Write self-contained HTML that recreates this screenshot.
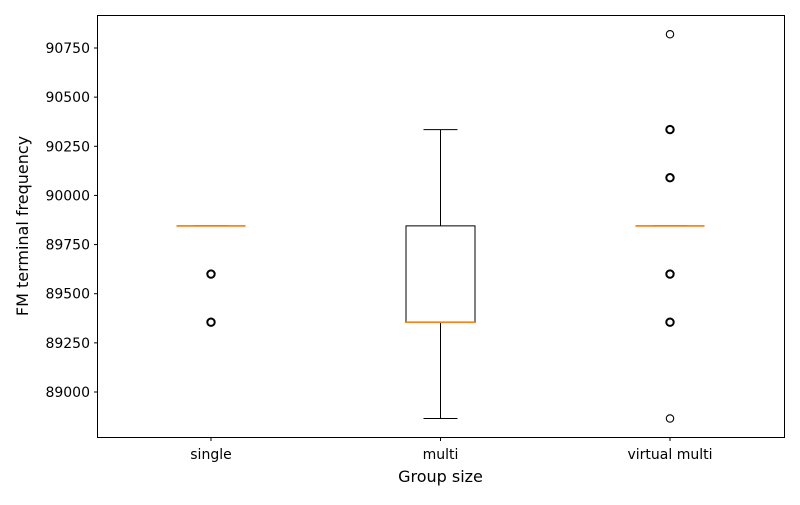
<!DOCTYPE html>
<html><head><meta charset="utf-8"><style>
body{margin:0;background:#fff;font-family:"Liberation Sans","DejaVu Sans",sans-serif}
</style></head><body>
<svg id="chart" width="800" height="500" xmlns="http://www.w3.org/2000/svg" font-family="DejaVu Sans, Liberation Sans, sans-serif">
<rect width="800" height="500" fill="#fff"/>
<g id="marks"></g>
<g id="axes"></g>
<rect x="97.5" y="15.5" width="687" height="422" fill="none" stroke="#000" stroke-width="1"/>
<text x="440.5" y="482" font-size="16" text-anchor="middle">Group size</text>
<text transform="translate(28,226) rotate(-90)" font-size="16" text-anchor="middle">FM terminal frequency</text>
</svg>
<script>
const categories = ["single", "multi", "virtual multi"];
const q1 = [89845, 89355, 89845];
const medians = [89845, 89355, 89845];
const q3 = [89845, 89845, 89845];
const whiskerLow = [89845, 88865, 89845];
const whiskerHigh = [89845, 90335, 89845];
const outliers = [[89600, 89355], [], [90820, 90335, 90090, 89600, 89355, 88865]];
const outlierBold = [[true, true], [], [false, true, true, true, true, false]];
const yTicks = [89000, 89250, 89500, 89750, 90000, 90250, 90500, 90750];

const NS = "http://www.w3.org/2000/svg";
function y(v){ return 392 + (89000 - v) * (344 / 1750); }
function x(i){ return 211 + i * 229.5; }
function mk(parent, tag, attrs){
  const e = document.createElementNS(NS, tag);
  for (const k in attrs) e.setAttribute(k, attrs[k]);
  parent.appendChild(e); return e;
}
const marks = document.getElementById("marks");
const axes = document.getElementById("axes");
const hw = 34.5, cap = 17;
categories.forEach((c, i) => {
  const cx = x(i);
  const g = mk(marks, "g", {});
  
  
  mk(g, "line", {x1: cx, x2: cx, y1: y(q3[i]), y2: y(whiskerHigh[i]), stroke: "#000"});
  mk(g, "line", {x1: cx, x2: cx, y1: y(q1[i]), y2: y(whiskerLow[i]), stroke: "#000"});
  mk(g, "line", {x1: cx - cap, x2: cx + cap, y1: y(whiskerHigh[i]), y2: y(whiskerHigh[i]), stroke: "#000"});
  mk(g, "line", {x1: cx - cap, x2: cx + cap, y1: y(whiskerLow[i]), y2: y(whiskerLow[i]), stroke: "#000"});
  const t3 = y(q3[i]), b1 = y(q1[i]);
  mk(g, "path", {d: `M${cx-hw},${t3}L${cx+hw},${t3}L${cx+hw},${b1}L${cx-hw},${b1}Z`, fill: "none", stroke: "#000"});
  mk(g, "line", {x1: cx - hw, x2: cx + hw, y1: y(medians[i]), y2: y(medians[i]), stroke: "#ff7f0e", "stroke-width": 1.6});
  outliers[i].forEach((v, j) => {
    const o = mk(g, "circle", {cx: cx, cy: y(v), r: 3.7, fill: "none", stroke: "#000", "stroke-width": outlierBold[i][j] ? 2 : 1.1});
    
    
  });
  mk(axes, "line", {x1: cx, x2: cx, y1: 437.5, y2: 441, stroke: "#000"});
  const t = mk(axes, "text", {x: cx, y: 459, "font-size": 14, "text-anchor": "middle"});
  t.textContent = c;
  
  
});
yTicks.forEach(v => {
  mk(axes, "line", {x1: 94, x2: 97.5, y1: y(v), y2: y(v), stroke: "#000"});
  const t = mk(axes, "text", {x: 90, y: y(v) + 5, "font-size": 14, "text-anchor": "end"});
  t.textContent = v;
  
  
});
</script>
</body></html>
